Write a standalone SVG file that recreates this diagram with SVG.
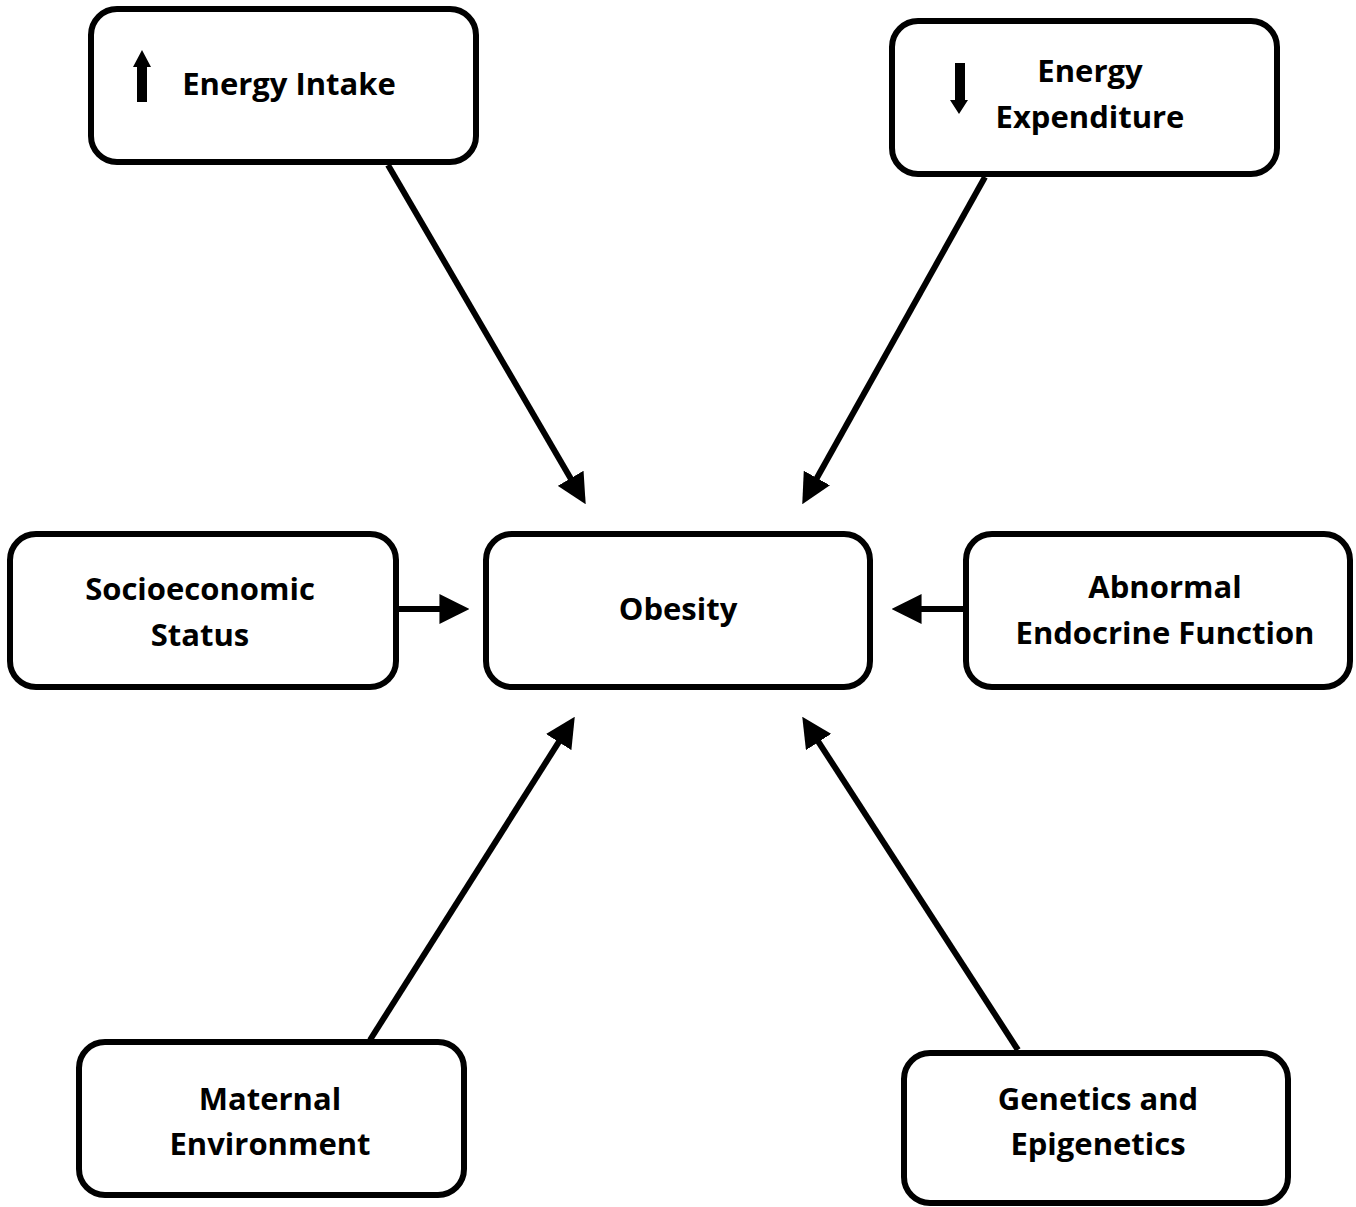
<svg xmlns="http://www.w3.org/2000/svg" width="1356" height="1207" viewBox="0 0 1356 1207">
<defs>
<style>
.box{fill:#fff;stroke:#000;stroke-width:6}
.t{font-family:"Open Sans","Noto Sans",sans-serif;font-weight:bold;font-size:31px;fill:#000;text-anchor:middle}
.c{stroke:#000;stroke-width:6;fill:none}
</style>
<marker id="ah" markerUnits="userSpaceOnUse" markerWidth="30" markerHeight="30" refX="8" refY="14" orient="auto" viewBox="0 0 28 28">
<path d="M0,0 L28,14 L0,28 Z" fill="#000"/>
</marker>
</defs>
<rect width="1356" height="1207" fill="#fff"/>
<g id="connectors">
<line class="c" x1="388" y1="165" x2="574.9" y2="485.7" marker-end="url(#ah)"/>
<line class="c" x1="985" y1="177" x2="812.7" y2="485.5" marker-end="url(#ah)"/>
<line class="c" x1="397" y1="609" x2="448" y2="609" marker-end="url(#ah)"/>
<line class="c" x1="965" y1="609" x2="913" y2="609" marker-end="url(#ah)"/>
<line class="c" x1="370" y1="1040" x2="563.3" y2="734.9" marker-end="url(#ah)"/>
<line class="c" x1="1018" y1="1050" x2="813.9" y2="734.8" marker-end="url(#ah)"/>
</g>
<g id="energy-intake">
<rect class="box" x="91" y="9" width="385" height="153" rx="26"/>
<path d="M137,102 V67 H133 L142,50 L151,67 H147 V102 Z" fill="#000"/>
<text class="t" x="289" y="95">Energy Intake</text>
</g>
<g id="energy-expenditure">
<rect class="box" x="892" y="21" width="385" height="153" rx="26"/>
<path d="M955,63 V100 H950 L959,114 L968,100 H965 V63 Z" fill="#000"/>
<text class="t" x="1090" y="82">Energy</text>
<text class="t" x="1090" y="128">Expenditure</text>
</g>
<g id="socioeconomic">
<rect class="box" x="10" y="534" width="386" height="153" rx="26"/>
<text class="t" x="200" y="600">Socioeconomic</text>
<text class="t" x="200" y="646">Status</text>
</g>
<g id="obesity">
<rect class="box" x="486" y="534" width="384" height="153" rx="26"/>
<text class="t" x="678" y="620">Obesity</text>
</g>
<g id="endocrine">
<rect class="box" x="966" y="534" width="384" height="153" rx="26"/>
<text class="t" x="1165" y="598">Abnormal</text>
<text class="t" x="1165" y="644">Endocrine Function</text>
</g>
<g id="maternal">
<rect class="box" x="79" y="1042" width="385" height="153" rx="26"/>
<text class="t" x="270" y="1110">Maternal</text>
<text class="t" x="270" y="1155">Environment</text>
</g>
<g id="genetics">
<rect class="box" x="904" y="1053" width="384" height="150" rx="26"/>
<text class="t" x="1098" y="1110">Genetics and</text>
<text class="t" x="1098" y="1155">Epigenetics</text>
</g>
</svg>
